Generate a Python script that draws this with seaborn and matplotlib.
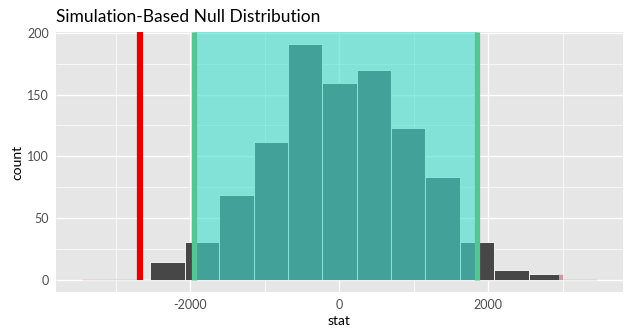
import numpy as np
import pandas as pd
import matplotlib
matplotlib.use("Agg")
import matplotlib.pyplot as plt
import seaborn as sns

# Null distribution histogram (15 bins) of the simulated statistic
bin_edges = np.linspace(-3456, 3464, 16)
bin_counts = [1, 1, 15, 31, 69, 112, 191, 159, 170, 123, 83, 31, 8, 5, 1]

# Observed statistic and the two-sided p-value cutoffs
obs_stat = -2678
pvalue_cutoffs = [-2678, 2948]

# Confidence interval endpoints
ci_bounds = [-1949, 1852]

x_ticks = [-2000, 0, 2000]
y_ticks = [0, 50, 100, 150, 200]

bin_centers = (bin_edges[:-1] + bin_edges[1:]) / 2
df = pd.DataFrame({"stat": bin_centers, "count": bin_counts})

sns.set_theme(style="darkgrid")
plt.rcParams["font.family"] = ["Lato", "DejaVu Sans"]
plt.rcParams["axes.unicode_minus"] = False
plt.rcParams["lines.solid_capstyle"] = "butt"

fig = plt.figure(figsize=(6.31, 3.36), dpi=100)
ax = fig.add_axes([56 / 631, 1 - 292 / 336, (623 - 56) / 631, (292 - 32) / 336])
ax.set_facecolor("#E6E6E6")

bw = float(bin_edges[1] - bin_edges[0])
sns.histplot(data=df, x="stat", weights="count", binwidth=bw,
             binrange=(float(bin_edges[0]), float(bin_edges[-1])), ax=ax,
             color="#474747", edgecolor="white", linewidth=0.6, alpha=1.0,
             zorder=2)

ymax = max(bin_counts)
y_lo, y_hi = -0.05 * ymax, 1.05 * ymax
zero_frac = -y_lo / (y_hi - y_lo)

# Confidence interval band and its edges
ax.fill_between(ci_bounds, 0, y_hi, color="#40E0D0", alpha=0.6, linewidth=0,
                zorder=3)
for b in ci_bounds:
    ax.axvline(b, ymin=zero_frac, ymax=1, color="#55C693", lw=3.8,
               solid_capstyle="butt", zorder=4)

# P-value shading: parts of the histogram beyond each cutoff
lo_cut, hi_cut = pvalue_cutoffs
for left, right, c in zip(bin_edges[:-1], bin_edges[1:], bin_counts):
    a, b = left, min(right, lo_cut)
    if b > a:
        ax.bar(a, c, width=b - a, align="edge", color="pink", alpha=0.7,
               linewidth=0, zorder=5)
    a, b = max(left, hi_cut), right
    if b > a:
        ax.bar(a, c, width=b - a, align="edge", color="pink", alpha=0.7,
               linewidth=0, zorder=5)

ax.axvline(obs_stat, ymin=zero_frac, ymax=1, color="#E80000", lw=4.5,
           solid_capstyle="butt", zorder=6)

span = bin_edges[-1] - bin_edges[0]
ax.set_xlim(bin_edges[0] - 0.05 * span, bin_edges[-1] + 0.05 * span)
ax.set_ylim(y_lo, y_hi)

ax.set_xticks(x_ticks)
ax.set_xticklabels([str(v) for v in x_ticks])
ax.set_yticks(y_ticks)
ax.set_xticks([-3000, -1000, 1000, 3000], minor=True)
ax.set_yticks([25, 75, 125, 175], minor=True)

ax.grid(which="major", color="white", linewidth=1.0)
ax.grid(which="minor", color="white", linewidth=0.5)
ax.set_axisbelow(True)
for s in ax.spines.values():
    s.set_visible(False)

ax.tick_params(axis="both", which="major", length=2.5, width=0.8,
               color="#333333", labelcolor="#4D4D4D", labelsize=9, pad=2.5)
ax.tick_params(axis="both", which="minor", length=0)

ax.set_xlabel("stat", fontsize=10, color="black", labelpad=3)
ax.set_ylabel("count", fontsize=10, color="black", labelpad=3)
ax.set_title("Simulation-Based Null Distribution", loc="left", fontsize=12.5,
             color="black", pad=7)

fig.savefig("out.png", dpi=100)
